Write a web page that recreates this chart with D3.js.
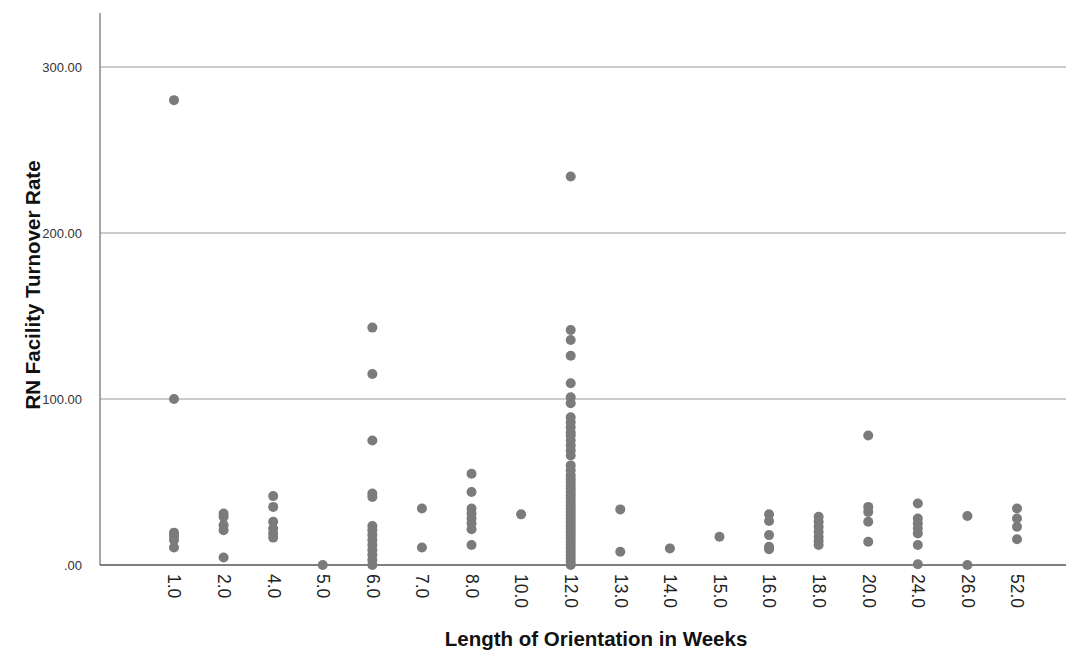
<!DOCTYPE html>
<html>
<head>
<meta charset="utf-8">
<script src="https://cdn.jsdelivr.net/npm/d3@7/dist/d3.min.js"></script>
<style>
  html, body { margin: 0; padding: 0; background: #fff; }
  svg { display: block; font-family: "Liberation Sans", Arial, sans-serif; }
</style>
</head>
<body>
<svg id="chart" width="1078" height="654"></svg>
<script>
// Categories (length of orientation in weeks)
const categories = ["1.0","2.0","4.0","5.0","6.0","7.0","8.0","10.0","12.0","13.0","14.0","15.0","16.0","18.0","20.0","24.0","26.0","52.0"];

// RN facility turnover rate values per category
const wk1  = [280, 100, 19.5, 17.5, 15, 10.5];
const wk2  = [31, 29, 24, 21, 4.5];
const wk4  = [41.5, 35, 26, 22, 19, 16.5];
const wk5  = [0];
const wk6  = [143, 115, 75, 43, 41, 23.5, 21, 18, 15, 12, 9, 6, 3, 0];
const wk7  = [34, 10.5];
const wk8  = [55, 44, 34, 31, 28, 25, 21.5, 12];
const wk10 = [30.5];
const wk12 = [234, 141.5, 135.5, 126, 109.5, 101, 97.5, 89, 86, 83, 80, 78, 75, 72, 69, 66, 60,
              57, 54, 52, 50, 48, 46, 44, 42, 40, 38, 36, 34, 32, 30, 28, 26, 24, 22, 20, 18,
              16, 14, 12, 10, 8, 6, 4, 2, 0];
const wk13 = [33.5, 8];
const wk14 = [10];
const wk15 = [17];
const wk16 = [30.5, 26.5, 18, 11, 9.5];
const wk18 = [29, 26, 23, 20, 17, 14.5, 12];
const wk20 = [78, 35, 32, 26, 14];
const wk24 = [37, 28, 25, 22, 19, 12, 0.5];
const wk26 = [29.5, 0];
const wk52 = [34, 28, 23, 15.5];

const seriesValues = [wk1, wk2, wk4, wk5, wk6, wk7, wk8, wk10, wk12, wk13, wk14, wk15, wk16, wk18, wk20, wk24, wk26, wk52];
const yTicks = [0, 100, 200, 300];

(function () {
const points = [];
categories.forEach((c, i) => seriesValues[i].forEach(v => points.push({ cat: c, value: v })));

const svg = d3.select("#chart");
svg.append("rect").attr("width", 1078).attr("height", 654).attr("fill", "#fff");

const mLeft = 100, mRight = 1066, mTop = 13, mBottom = 565;

const x = d3.scalePoint().domain(categories).range([174, 1017]);
const y = d3.scaleLinear().domain([0, 332.5]).range([mBottom, mTop]);

// gridlines
svg.append("g").selectAll("line").data(yTicks.filter(d => d > 0)).join("line")
  .attr("x1", mLeft).attr("x2", mRight)
  .attr("y1", d => y(d)).attr("y2", d => y(d))
  .attr("stroke", "#cccccc").attr("stroke-width", 2);

// y axis
const yAxis = svg.append("g").attr("transform", `translate(${mLeft},0)`)
  .call(d3.axisLeft(y).tickValues(yTicks).tickSize(0).tickPadding(18)
    .tickFormat(d => d === 0 ? ".00" : d3.format(".2f")(d)));
yAxis.select(".domain").remove();
yAxis.selectAll("text").attr("font-size", 13).attr("fill", "#333")
  .attr("font-family", "Liberation Sans, Arial, sans-serif");
svg.append("line").attr("x1", mLeft).attr("x2", mLeft).attr("y1", mTop).attr("y2", mBottom)
  .attr("stroke", "#888").attr("stroke-width", 1.5);

// x axis
const xAxis = svg.append("g").attr("transform", `translate(0,${mBottom})`)
  .call(d3.axisBottom(x).tickSize(0).tickPadding(0));
xAxis.select(".domain").remove();
xAxis.selectAll("text")
  .attr("font-size", 17.5).attr("fill", "#222")
  .attr("font-family", "Liberation Sans, Arial, sans-serif")
  .attr("text-anchor", "start")
  .attr("transform", "rotate(90)")
  .attr("x", 9).attr("y", 0).attr("dy", "0.35em");
svg.append("line").attr("x1", mLeft).attr("x2", mRight).attr("y1", mBottom).attr("y2", mBottom)
  .attr("stroke", "#555").attr("stroke-width", 1.5);

// points
svg.append("g").selectAll("circle").data(points).join("circle")
  .attr("cx", d => x(d.cat)).attr("cy", d => y(d.value))
  .attr("r", 5).attr("fill", "#7b7b7b");

// axis titles
svg.append("text").attr("x", 596).attr("y", 646).attr("text-anchor", "middle")
  .attr("font-size", 20.5).attr("font-weight", "bold").attr("fill", "#111")
  .text("Length of Orientation in Weeks");
svg.append("text").attr("transform", "translate(40,285) rotate(-90)").attr("text-anchor", "middle")
  .attr("font-size", 20.5).attr("font-weight", "bold").attr("fill", "#111")
  .text("RN Facility Turnover Rate");
})();
</script>
</body>
</html>
